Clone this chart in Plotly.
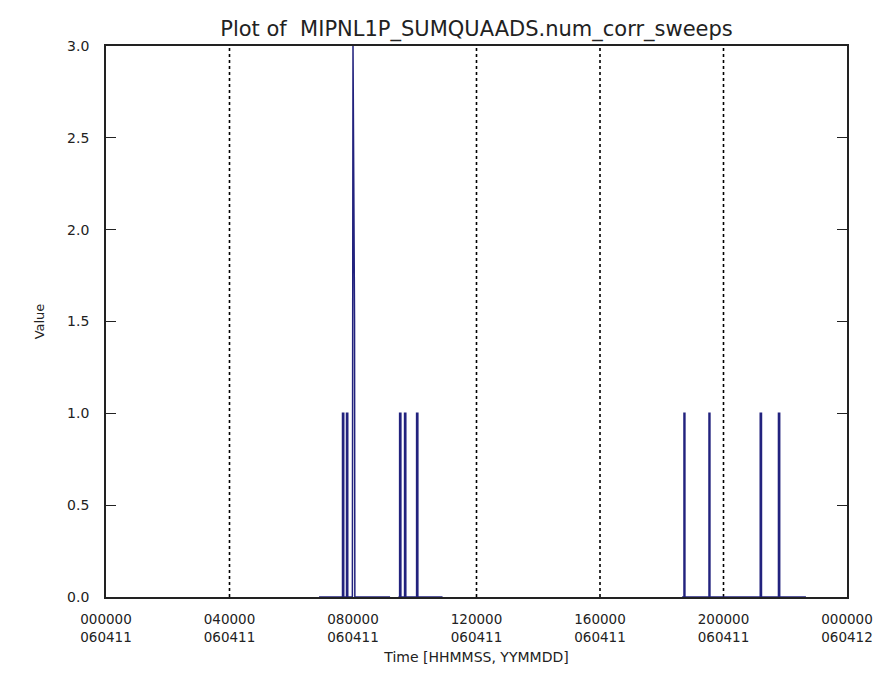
import plotly.graph_objects as go

# ---- data (time in hours of 2006-04-11, value) ----
time_h = [6.90, 7.66, 7.66, 7.70, 7.70, 7.79, 7.79, 7.83, 7.83, 7.98, 8.00, 8.05, 8.06, 9.20, None,
          9.47, 9.51, 9.51, 9.55, 9.55, 9.67, 9.67, 9.71, 9.71, 10.06, 10.06, 10.10, 10.10, 10.90, None,
          18.66, 18.72, 18.72, 18.75, 18.75, 19.53, 19.53, 19.56, 19.56,
          21.19, 21.19, 21.23, 21.23, 21.78, 21.78, 21.82, 21.82, 22.67]
values = [0, 0, 1, 1, 0, 0, 1, 1, 0, 0, 3.0, 1.5, 0, 0, None,
          0, 0, 1, 1, 0, 0, 1, 1, 0, 0, 1, 1, 0, 0, None,
          0, 0, 1, 1, 0, 0, 1, 1, 0,
          0, 1, 1, 0, 0, 1, 1, 0, 0]

boundary_h = [4, 12, 16, 20]

tick_hours = [0, 4, 8, 12, 16, 20, 24]
tick_times = ["000000", "040000", "080000", "120000", "160000", "200000", "000000"]
tick_dates = ["060411", "060411", "060411", "060411", "060411", "060411", "060412"]
y_ticks = [0.0, 0.5, 1.0, 1.5, 2.0, 2.5, 3.0]
x_range = [0, 24]
y_range = [0, 3]

font = "DejaVu Sans"
txt = "#222222"
frame = "#222222"

fig = go.Figure()

# dotted boundary lines
bx, by = [], []
for b in boundary_h:
    bx += [b, b, None]
    by += [y_range[0], y_range[1], None]
fig.add_trace(go.Scatter(x=bx, y=by, mode="lines",
                         line=dict(color="black", width=1.6, dash="dot"),
                         hoverinfo="skip", showlegend=False))

fig.add_trace(go.Scatter(x=time_h, y=values, mode="lines",
                         line=dict(color="#22227e", width=1.5),
                         connectgaps=False, showlegend=False))

fig.update_layout(
    width=889, height=687,
    paper_bgcolor="white", plot_bgcolor="white",
    margin=dict(l=98, r=50, t=38, b=98),
    font=dict(family=font, size=14, color=txt),
    title=dict(text="Plot of  MIPNL1P_SUMQUAADS.num_corr_sweeps",
               x=0.5, xref="paper", y=0.970, yref="container", yanchor="middle",
               font=dict(family=font, size=21, color=txt)),
    showlegend=False,
    xaxis=dict(range=x_range, tickvals=tick_hours,
               ticktext=[f"{t}<br>{d}" for t, d in zip(tick_times, tick_dates)],
               showgrid=False, zeroline=False, showline=True, linecolor=frame,
               linewidth=1.8, mirror=True, ticks="", ticklabelstandoff=9,
               tickfont=dict(size=13.5), layer="below traces",
               title=dict(text="Time [HHMMSS, YYMMDD]", standoff=9, font=dict(size=14))),
    yaxis=dict(range=y_range, tickvals=y_ticks, ticktext=[f"{v:.1f}" for v in y_ticks],
               showgrid=False, zeroline=False, showline=True, linecolor=frame,
               linewidth=1.8, mirror="ticks", ticks="inside", ticklen=10, tickcolor=frame,
               tickwidth=1.3, ticklabelstandoff=12, tickfont=dict(size=14),
               layer="below traces",
               title=dict(text="Value", standoff=19, font=dict(size=13))),
)

fig.write_html("out.html")
